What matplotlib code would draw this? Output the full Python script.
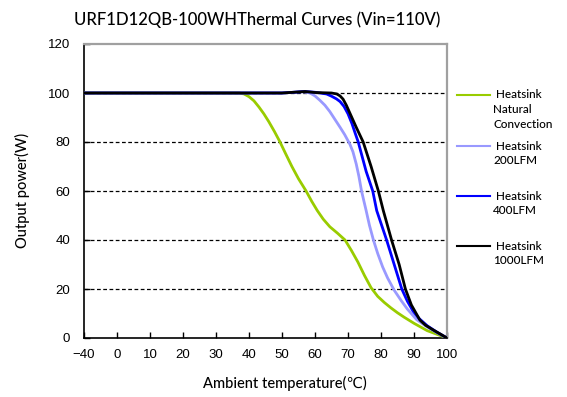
import numpy as np
import matplotlib
matplotlib.use('Agg')
import matplotlib.pyplot as plt
from matplotlib.lines import Line2D

plt.rcParams['font.family'] = ['Lato', 'DejaVu Sans']

# ---------------- data ----------------
x_ticks = [-40, 0, 10, 20, 30, 40, 50, 60, 70, 80, 90, 100]
y_ticks = [0, 20, 40, 60, 80, 100, 120]

t_nat = [-40, 0, 30, 37, 38.5, 40, 41.5, 43, 44.5, 46, 47.7, 49.4, 51, 53, 55, 57.3, 59, 60.7, 62.5,
         64.5, 66.8, 69.1, 71, 73, 75, 77, 79, 81, 83, 85, 87, 90, 94, 97, 100]
p_nat = [100, 100, 100, 100, 99.6, 98.5, 96.8, 94.3, 91.5, 88.3, 84.3, 80, 75.5, 70, 65, 60, 55.8, 52, 48.5,
         45.4, 42.8, 40, 35.8, 31, 25.5, 20.5, 17, 14.5, 12.3, 10.3, 8.5, 6, 3, 1.5, 0]

t_200 = [-40, 0, 50, 54, 56, 58.5, 60, 61.5, 63, 64.5, 66, 67.6, 69, 70.6, 71.5, 72.5, 73.3, 74.1,
         75.5, 76.5, 77.7, 79, 80.5, 82, 84, 86, 88, 90.8, 94, 97, 100]
p_200 = [100, 100, 100, 100.3, 100.6, 100, 98.8, 97, 95, 92.4, 89.3, 86, 83, 79, 76, 71, 66, 60,
         52, 46, 40, 34.5, 29, 24.5, 19.5, 15.5, 11.8, 7.5, 4.5, 2.2, 0]

t_400 = [-40, 0, 50, 57, 60, 63.5, 65, 66.5, 67.6, 68.8, 70, 71.2, 72.2, 73.1, 75.5, 77.5, 78.7,
         81.7, 84, 86.3, 88, 89.7, 91.5, 94, 97, 100]
p_400 = [100, 100, 100, 100.6, 100.3, 99.6, 98.7, 97.6, 96.5, 94.5, 91.5, 87.5, 83.5, 80, 68, 60, 52,
         40, 30, 20, 15, 11, 8, 5, 2.3, 0]

t_1000 = [-40, 0, 50, 57, 60, 65, 66.6, 67.6, 68.5, 69.5, 70.5, 71.5, 72.5, 74.6, 77, 79.2, 80.7,
          83.2, 85.5, 87.4, 89.2, 91.8, 93.5, 95.8, 98, 100]
p_1000 = [100, 100, 100, 100.6, 100.2, 100, 99.6, 98.8, 97.5, 95, 92, 89, 86, 80, 70, 60, 52,
          40, 30, 20, 13.5, 7.3, 5.2, 3.3, 1.6, 0]

series = [
    (t_nat, p_nat, '#99cc00', 'Heatsink\nNatural\nConvection'),
    (t_200, p_200, '#9999ff', 'Heatsink\n200LFM'),
    (t_400, p_400, '#0000ff', 'Heatsink\n400LFM'),
    (t_1000, p_1000, '#000000', 'Heatsink\n1000LFM'),
]


# x axis is a category-like axis: -40 then 0..100 equally spaced
def fwd(t):
    t = np.asarray(t, dtype=float)
    return np.where(t < 0, (t + 40) / 40.0, 1 + t / 10.0)


def inv(u):
    u = np.asarray(u, dtype=float)
    return np.where(u < 1, u * 40.0 - 40, (u - 1) * 10.0)


fig = plt.figure(figsize=(5.67, 3.97), dpi=100)
ax = fig.add_axes([84 / 567, 1 - 338 / 397, 363 / 567, 294 / 397])
ax.set_xscale('function', functions=(fwd, inv))

for v in y_ticks[1:-1]:
    ax.axhline(v, color='black', lw=0.9, ls=(0, (3, 2)), zorder=1)

for t, p, c, lab in series:
    ax.plot(t, p, color=c, lw=2, solid_joinstyle='round', solid_capstyle='round', zorder=3)

ax.set_xlim(-40, 100)
ax.set_ylim(0, 120)
ax.set_xticks(x_ticks)
ax.set_xticklabels([str(v) if v >= 0 else '\u221240' for v in x_ticks])
ax.set_yticks(y_ticks)
ax.tick_params(direction='in', length=4, width=1, labelsize=9.5, colors='black',
               labelfontfamily='Liberation Sans')
ax.tick_params(axis='y', pad=10)
ax.tick_params(axis='x', pad=8)
ax.minorticks_off()

for s in ['left', 'bottom']:
    ax.spines[s].set_color('black')
    ax.spines[s].set_linewidth(1.2)
for s in ['top', 'right']:
    ax.spines[s].set_color('#a0a0a0')
    ax.spines[s].set_linewidth(1.6)

fig.text(257 / 567, 1 - 20 / 397, 'URF1D12QB-100WHThermal Curves (Vin=110V)',
         ha='center', va='center', fontsize=12, fontweight='medium')
fig.text(22 / 567, 1 - 190 / 397, 'Output power(W)', rotation=90,
         ha='center', va='center', fontsize=10.5, fontweight='medium')
fig.text(285 / 567, 1 - 383 / 397, 'Ambient temperature(\u2103)',
         ha='center', va='center', fontsize=10.5, fontweight='medium')

# legend drawn by hand at the right side
legend_y = [95, 146, 196, 246]
for (t, p, c, lab), ly in zip(series, legend_y):
    fig.add_artist(Line2D([457 / 567, 490 / 567], [1 - ly / 397, 1 - ly / 397],
                          color=c, lw=1.5, transform=fig.transFigure))
    lines = lab.split('\n')
    for i, s in enumerate(lines):
        xx = 496 if i == 0 else 493
        fig.text(xx / 567, 1 - (ly + i * 14.5) / 397, s, ha='left', va='center', fontsize=8.5,
                 fontweight='medium')

fig.savefig('out.png', dpi=100)
